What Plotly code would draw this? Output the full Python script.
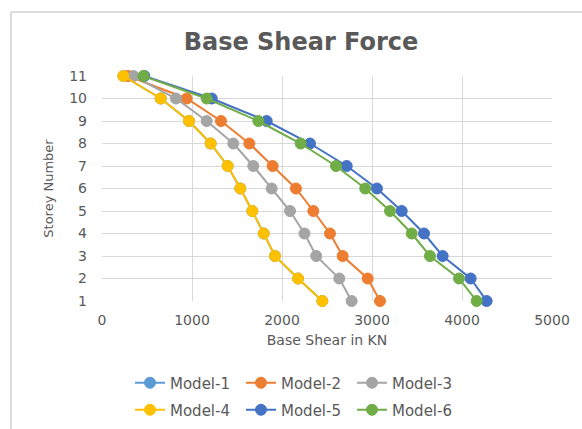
import plotly.graph_objects as go

storeys = [1, 2, 3, 4, 5, 6, 7, 8, 9, 10, 11]

model_names = ["Model-1", "Model-2", "Model-3", "Model-4", "Model-5", "Model-6"]

model1 = [2448, 2178, 1922, 1797, 1670, 1537, 1396, 1207, 967, 652, 237]
model2 = [3089, 2952, 2674, 2533, 2348, 2155, 1896, 1637, 1322, 941, 290]
model3 = [2774, 2637, 2380, 2250, 2089, 1885, 1681, 1459, 1163, 822, 348]
model4 = [2448, 2178, 1922, 1797, 1670, 1537, 1396, 1207, 967, 652, 237]
model5 = [4274, 4096, 3785, 3578, 3330, 3055, 2719, 2311, 1830, 1219, 470]
model6 = [4163, 3967, 3644, 3441, 3200, 2925, 2600, 2207, 1737, 1163, 459]

colors = ["#5B9BD5", "#ED7D31", "#A5A5A5", "#FFC000", "#4472C4", "#70AD47"]

series = [model1, model2, model3, model4, model5, model6]

FONT = "DejaVu Sans"
GREY = "#595959"

fig = go.Figure()
for i, (name, vals, col) in enumerate(zip(model_names, series, colors)):
    fig.add_trace(go.Scatter(
        x=vals, y=storeys, name=name, mode="lines+markers",
        line=dict(color=col, width=2),
        marker=dict(color=col, size=11, line=dict(color=col, width=1)),
        cliponaxis=False,
        legend="legend" if i < 3 else "legend2",
    ))

fig.update_layout(
    width=582, height=429,
    margin=dict(l=102, r=30, t=76, b=128),
    paper_bgcolor="white", plot_bgcolor="white",
    font=dict(family=FONT, color=GREY, size=14),
    title=dict(text="<b>Base Shear Force</b>", x=301 / 582, xanchor="center",
               y=1 - 42 / 429, yanchor="middle",
               font=dict(family=FONT, size=24, color=GREY)),
    xaxis=dict(range=[0, 5000], dtick=1000, showgrid=True, gridcolor="#D9D9D9",
               zeroline=False, showline=False, ticklabelstandoff=9,
               tickfont=dict(size=14, color=GREY),
               title=dict(text="Base Shear in KN", font=dict(size=14, color=GREY), standoff=8)),
    yaxis=dict(range=[1, 11], dtick=1, showgrid=True, gridcolor="#D9D9D9",
               zeroline=False, showline=False, ticklabelstandoff=14,
               tickfont=dict(size=14, color=GREY),
               title=dict(text="Storey Number", font=dict(size=13, color=GREY), standoff=12)),
    legend=dict(orientation="h", xref="container", yref="container",
                x=130 / 582, xanchor="left", y=1 - 383 / 429, yanchor="middle",
                entrywidth=66, entrywidthmode="pixels",
                font=dict(size=15, color=GREY), bgcolor="rgba(0,0,0,0)"),
    legend2=dict(orientation="h", xref="container", yref="container",
                 x=130 / 582, xanchor="left", y=1 - 410 / 429, yanchor="middle",
                 entrywidth=66, entrywidthmode="pixels",
                 font=dict(size=15, color=GREY), bgcolor="rgba(0,0,0,0)"),
    showlegend=True,
)

# chart border (left and top edges visible in the reference)
fig.add_shape(type="line", xref="paper", yref="paper",
              x0=(11 - 102) / 450, x1=(11 - 102) / 450,
              y0=(301 - 12) / 225, y1=(301 - 440) / 225,
              line=dict(color="#D0D0D0", width=1.5))
fig.add_shape(type="line", xref="paper", yref="paper",
              x0=(11 - 102) / 450, x1=(600 - 102) / 450,
              y0=(301 - 12) / 225, y1=(301 - 12) / 225,
              line=dict(color="#D0D0D0", width=1.5))

fig.write_html("out.html", config={"displayModeBar": False},
               post_script="document.body.style.margin='0';")
